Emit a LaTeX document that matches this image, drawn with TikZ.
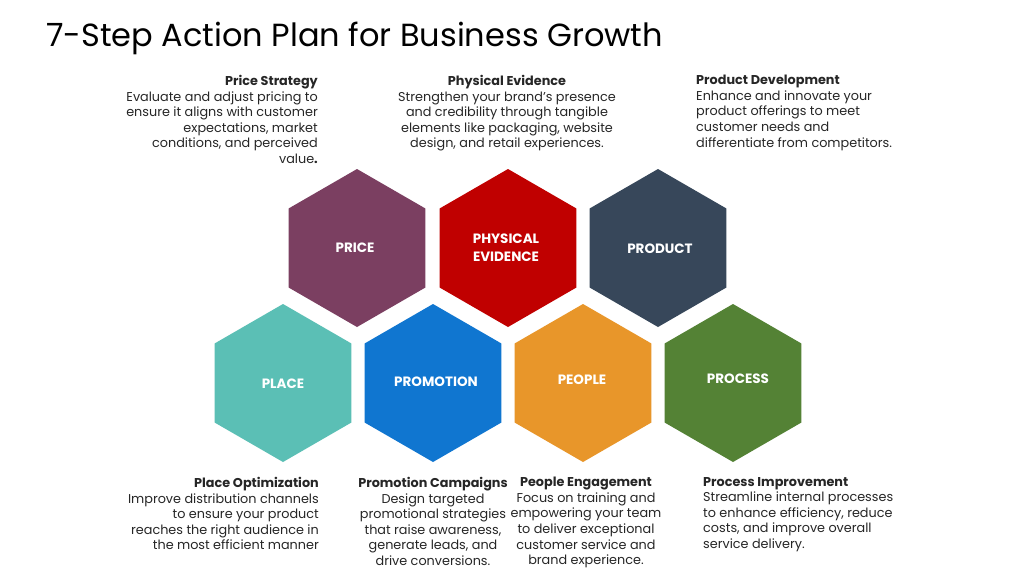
\documentclass[tikz,border=0pt]{standalone}
\usepackage{fontspec}
\setmainfont{Poppins}
\definecolor{cprice}{HTML}{7B3F61}
\definecolor{cphys}{HTML}{C00000}
\definecolor{cprod}{HTML}{37475A}
\definecolor{cplace}{HTML}{5BBFB5}
\definecolor{cpromo}{HTML}{1076D0}
\definecolor{cpeople}{HTML}{E8962A}
\definecolor{cproc}{HTML}{548235}
\newcommand\myhex[4]{%
  \fill[#3] (#1,#2) ++(90:79) -- ++(-30:79) -- ++(-90:79) -- ++(-150:79) -- ++(150:79) -- ++(90:79) -- cycle;
}
\begin{document}
\begin{tikzpicture}[x=1pt,y=-1pt,
  hl/.style={text=white,font=\fontsize{13.5}{18}\selectfont\bfseries,align=center},
  desc/.style={font=\fontsize{12.8}{15.6}\selectfont,text=black!85,inner sep=0pt}]
\useasboundingbox (0,0) rectangle (1024,576);
\fill[white] (0,0) rectangle (1024,576);
\node[anchor=west,font=\fontsize{32}{36}\selectfont,inner sep=0pt] (title) at (46,38) {7-Step Action Plan for Business Growth};
\myhex{357}{248}{cprice}{}
\myhex{508}{248}{cphys}{}
\myhex{658}{248}{cprod}{}
\myhex{283}{383}{cplace}{}
\myhex{433}{383}{cpromo}{}
\myhex{583}{383}{cpeople}{}
\myhex{733}{383}{cproc}{}
\node[hl] (price) at (355,248) {PRICE};
\node[hl] (phys) at (506,248) {PHYSICAL\\EVIDENCE};
\node[hl] (prod) at (660,249) {PRODUCT};
\node[hl] (place) at (283,384) {PLACE};
\node[hl] (promo) at (436,382) {PROMOTION};
\node[hl] (people) at (582,380) {PEOPLE};
\node[hl] (proc) at (738,379) {PROCESS};
\node[desc,anchor=north east,align=right] (d1) at (318,75) {\textbf{Price Strategy}\\Evaluate and adjust pricing to\\ensure it aligns with customer\\expectations, market\\conditions, and perceived\\value\textbf{.}};
\node[desc,anchor=north,align=center] (d2) at (507,75) {\textbf{Physical Evidence}\\Strengthen your brand’s presence\\and credibility through tangible\\elements like packaging, website\\design, and retail experiences.};
\node[desc,anchor=north west,align=left] (d3) at (696,75) {\textbf{Product Development}\\Enhance and innovate your\\product offerings to meet\\customer needs and\\differentiate from competitors.};
\node[desc,anchor=north east,align=right] (d4) at (319,477) {\textbf{Place Optimization}\\Improve distribution channels\\to ensure your product\\reaches the right audience in\\the most efficient manner};
\node[desc,anchor=north,align=center] (d5) at (433,477) {\textbf{Promotion Campaigns}\\Design targeted\\promotional strategies\\that raise awareness,\\generate leads, and\\drive conversions.};
\node[desc,anchor=north,align=center] (d6) at (586,477) {\textbf{People Engagement}\\Focus on training and\\empowering your team\\to deliver exceptional\\customer service and\\brand experience.};
\node[desc,anchor=north west,align=left] (d7) at (703,477) {\textbf{Process Improvement}\\Streamline internal processes\\to enhance efficiency, reduce\\costs, and improve overall\\service delivery.};
\end{tikzpicture}
\end{document}
